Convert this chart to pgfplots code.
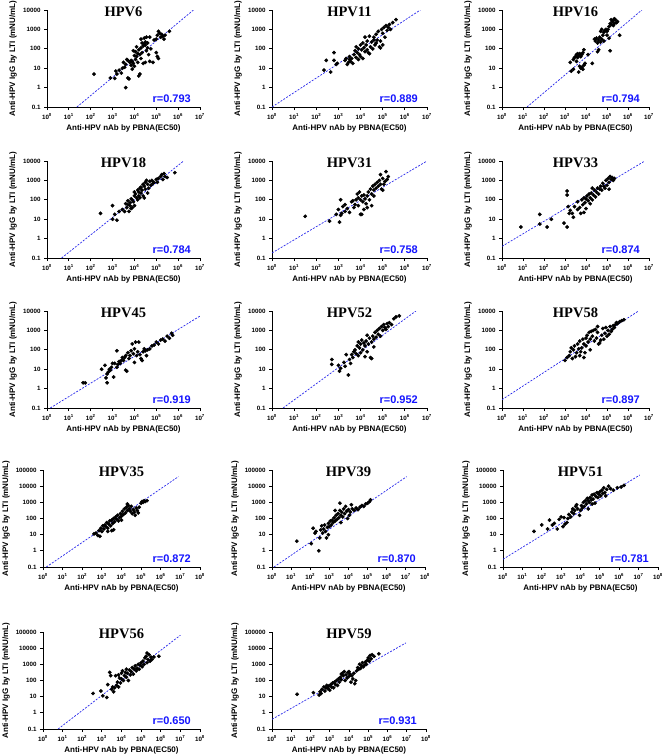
\documentclass[border=0pt]{standalone}
\usepackage{fontspec}
\setmainfont{Liberation Sans}
\newfontfamily\serifbf{Liberation Serif}
\usepackage{pgfplots}
\pgfplotsset{compat=1.18}

% values are log10 of the measured titres: x = nAb (EC50), y = IgG (mNU/mL)
\newcommand\tickfont{\fontsize{6.2}{7}\selectfont\bfseries}
\newcommand\labfont{\fontsize{8}{9}\selectfont\bfseries}
\newcommand\titfont{\fontsize{14.5}{15}\selectfont\serifbf\bfseries}
\newcommand\rfont{\fontsize{11}{12}\selectfont\bfseries}
\definecolor{rblue}{RGB}{20,20,255}
\definecolor{fitblue}{RGB}{40,40,235}

\pgfplotsset{
  hpv/.style={
    scale only axis, height=97pt,
    xmin=0, ymin=-1,
    axis x line*=bottom, axis y line*=left,
    axis line style={line width=0.8pt,-},
    every tick/.style={black,line width=0.8pt},
    tick align=outside, major tick length=3pt,
    tick label style={font=\tickfont},
    xlabel={Anti-HPV nAb by PBNA(EC50)},
    ylabel={Anti-HPV IgG by LTI (mNU/mL)},
    label style={font=\labfont},
    xlabel style={at={(axis description cs:0.5,0)}, anchor=center, yshift=-21pt},
    title style={font=\titfont, at={(axis description cs:0.5,1)}, anchor=north, yshift=-3pt, inner sep=0pt},
  },
  four/.style={hpv, xmax=7, ymax=4,
    xtick={0,...,7},
    xticklabels={10\textsuperscript{0},10\textsuperscript{1},10\textsuperscript{2},10\textsuperscript{3},10\textsuperscript{4},10\textsuperscript{5},10\textsuperscript{6},10\textsuperscript{7}},
    ytick={-1,...,4}, yticklabels={0.1,1,10,100,1000,10000},
    ylabel style={at={([xshift=-34pt]axis description cs:0,0.5)}, anchor=center},
  },
  five/.style={hpv, xmax=8, ymax=5,
    xtick={0,...,8},
    xticklabels={10\textsuperscript{0},10\textsuperscript{1},10\textsuperscript{2},10\textsuperscript{3},10\textsuperscript{4},10\textsuperscript{5},10\textsuperscript{6},10\textsuperscript{7},10\textsuperscript{8}},
    ytick={-1,...,5}, yticklabels={0.1,1,10,100,1000,10000,100000},
    ylabel style={at={([xshift=-37pt]axis description cs:0,0.5)}, anchor=center},
  },
  dots/.style={only marks, mark=*, mark size=1.7pt, black},
  fit/.style={fitblue, line width=0.7pt, dash pattern=on 2pt off 1.4pt},
}

% #1 style, #2 left, #3 top, #4 width, #5 title, #6 r, #7 fit line, #8 points
\newcommand\panel[8]{%
  \begin{axis}[#1, at={(#2pt,-#3pt)}, anchor=north west, width=#4pt, title={#5}]
    \addplot[fit] coordinates {#7};
    \addplot[dots] coordinates {#8};
    \node[anchor=base east, inner sep=0pt, text=rblue, font=\rfont]
      at ([xshift=-9pt,yshift=5pt]rel axis cs:1,0) {#6};
  \end{axis}}

\begin{document}
\begin{tikzpicture}
\useasboundingbox (0,0) rectangle (667pt,-756pt);

\panel{four}{47}{10}{153}{HPV6}{r=0.793}{(1.37,-1) (6.7,4)}{
(2.15,0.7) (2.9,0.5) (3.1,0.48) (3.2,0.7) (3.15,0.85) (3.3,0.9) (3.45,1.0) (3.55,1.05) (3.5,1.3) (3.6,1.2)
(3.65,1.45) (3.7,0.5) (3.75,0.45) (3.6,0.0) (3.8,1.3) (3.85,1.4) (3.9,1.35) (3.95,1.25) (3.85,1.15) (3.9,0.95)
(4.0,1.1) (4.05,1.45) (4.1,1.6) (4.0,1.65) (4.05,1.85) (4.15,1.75) (4.2,1.95) (4.25,1.7) (4.3,2.05) (4.35,1.8)
(4.2,0.6) (4.25,0.7) (4.3,1.5) (4.35,2.3) (4.4,2.15) (4.45,2.25) (4.5,2.35) (4.45,2.55) (4.5,2.2) (4.55,1.9)
(4.6,2.3) (4.55,2.6) (4.6,2.05) (4.65,1.7) (4.5,1.3) (4.4,1.25) (4.7,1.35) (4.75,2.0) (4.85,1.3) (4.9,2.45)
(5.0,2.5) (5.05,2.7) (5.1,2.9) (5.15,2.8) (5.2,2.6) (5.25,2.75) (5.3,2.65) (5.35,2.5) (5.4,2.7) (5.0,1.8)
(5.05,1.6) (5.1,1.5) (5.6,2.9) (4.1,2.1) (4.3,2.5) (3.95,1.9) (4.15,1.3) (4.7,2.6) (3.7,1.4) (3.4,0.75)}

\panel{four}{272}{10}{155}{HPV11}{r=0.889}{(0,-1) (6.7,4)}{
(2.35,0.9) (2.45,1.4) (2.65,0.8) (2.8,1.8) (2.8,1.4) (2.9,1.2) (2.95,1.25) (3.3,1.4) (3.35,1.5) (3.4,1.2)
(3.45,1.3) (3.5,1.45) (3.55,1.35) (3.6,1.5) (3.5,1.6) (3.65,1.25) (3.7,1.7) (3.75,1.9) (3.8,2.1) (3.85,1.8)
(3.9,2.0) (3.95,1.7) (4.0,2.2) (4.05,1.95) (4.1,2.3) (4.15,2.05) (4.2,1.85) (4.25,2.2) (4.3,2.4) (4.35,1.8)
(4.4,1.75) (4.45,2.1) (4.5,2.35) (4.55,2.0) (4.6,2.6) (4.65,2.2) (4.7,2.75) (4.75,2.45) (4.8,2.9) (4.85,2.1)
(4.9,2.4) (4.95,3.0) (5.0,2.8) (5.05,3.1) (5.1,2.6) (5.15,3.2) (5.2,2.95) (5.25,3.1) (5.3,3.25) (5.0,2.2)
(4.9,2.05) (4.7,2.3) (4.6,2.45) (4.3,1.95) (4.0,1.6) (3.9,1.45) (4.2,2.6) (4.4,2.65) (5.45,3.35) (5.6,3.5)
(5.35,3.0) (4.1,1.5) (3.8,1.55)}

\panel{four}{502}{10}{147}{HPV16}{r=0.794}{(1.19,-1) (6.66,4)}{
(3.25,1.3) (3.3,0.85) (3.4,1.45) (3.45,1.55) (3.5,1.6) (3.55,1.7) (3.6,1.75) (3.65,1.65) (3.6,1.55) (3.7,1.75)
(3.75,1.6) (3.8,1.7) (3.85,1.8) (3.9,1.95) (3.7,1.1) (3.75,1.0) (3.8,1.05) (3.85,0.95) (3.9,1.15) (3.65,0.8)
(3.95,1.25) (4.1,1.7) (4.3,1.25) (4.4,2.5) (4.45,2.4) (4.5,2.55) (4.55,2.3) (4.6,2.45) (4.65,2.6) (4.7,2.35)
(4.75,2.5) (4.55,1.85) (4.8,2.7) (4.85,2.85) (4.9,2.95) (4.95,3.0) (5.0,2.7) (5.0,2.9) (5.05,3.0) (4.7,2.9)
(4.75,3.0) (5.1,3.15) (5.15,3.3) (5.2,3.25) (5.25,3.4) (5.3,3.45) (5.35,3.3) (5.4,3.5) (5.45,3.35) (5.3,3.2)
(5.2,3.5) (5.1,2.55) (5.15,1.9) (5.6,2.7) (5.5,3.4) (5.35,3.55) (4.6,1.95) (4.85,2.4) (3.55,1.35) (3.4,0.95)}

\panel{four}{47}{161}{153}{HPV18}{r=0.784}{(0.67,-1) (6.25,4)}{
(2.45,1.3) (3.0,1.7) (3.0,1.0) (3.1,1.25) (3.2,0.95) (3.3,1.4) (3.45,1.5) (3.55,1.4) (3.6,1.8) (3.65,1.6)
(3.7,1.75) (3.7,1.95) (3.75,1.4) (3.8,1.7) (3.8,1.85) (3.85,1.55) (3.9,2.0) (3.95,1.9) (4.0,2.2) (4.0,1.7)
(4.05,2.3) (4.1,2.1) (4.15,2.5) (4.2,2.4) (4.2,2.2) (4.25,2.6) (4.3,2.35) (4.3,2.65) (4.35,2.5) (4.4,2.8)
(4.4,2.2) (4.45,2.7) (4.5,2.55) (4.5,2.9) (4.55,3.0) (4.6,2.8) (4.6,2.35) (4.65,2.6) (4.7,2.95) (4.75,2.75)
(4.8,3.0) (4.85,2.85) (4.9,2.9) (5.0,3.05) (5.05,2.9) (5.1,3.1) (5.2,3.2) (5.25,3.3) (5.3,3.05) (5.35,3.35)
(5.4,3.2) (5.5,3.15) (5.85,3.4) (4.15,2.0) (3.9,1.6) (4.45,2.1) (4.0,2.4) (3.85,2.05) (4.25,2.1)}

\panel{four}{272}{161}{155}{HPV31}{r=0.758}{(0,-0.74) (7,4)}{
(1.5,1.15) (2.6,0.9) (2.9,1.25) (3.0,1.5) (3.05,0.85) (3.1,1.2) (3.1,2.0) (3.15,1.3) (3.2,1.65) (3.3,1.4)
(3.4,1.55) (3.5,1.35) (3.6,1.9) (3.65,1.95) (3.7,1.6) (3.75,1.75) (3.8,2.0) (3.85,2.3) (3.9,2.1) (3.95,2.4)
(4.0,2.0) (4.0,1.25) (4.05,1.25) (4.05,2.2) (4.1,1.9) (4.15,2.25) (4.2,2.05) (4.25,1.8) (4.3,2.2) (4.3,1.6)
(4.35,2.4) (4.4,2.0) (4.45,2.55) (4.5,1.7) (4.5,2.3) (4.55,2.7) (4.6,2.5) (4.65,2.8) (4.7,2.6) (4.75,2.9)
(4.8,2.7) (4.85,3.0) (4.9,2.8) (4.95,2.55) (5.0,3.1) (5.05,2.8) (5.1,2.95) (5.15,3.45) (5.2,3.05) (5.25,3.2)
(4.9,3.3) (5.0,2.5) (3.9,1.7) (4.15,1.5) (4.6,2.2) (3.3,1.75)}

\panel{four}{502}{161}{147}{HPV33}{r=0.874}{(0,-0.4) (6.8,4)}{
(0.9,0.6) (1.8,1.25) (1.8,0.75) (2.15,0.6) (2.35,1.0) (2.95,0.8) (3.1,0.6) (3.1,2.45) (3.1,2.25) (3.15,1.65)
(3.2,1.3) (3.25,1.45) (3.35,1.3) (3.4,1.1) (3.45,1.65) (3.6,1.5) (3.7,1.6) (3.75,1.3) (3.8,2.0) (3.85,1.75)
(3.9,2.1) (3.95,1.85) (4.0,2.05) (4.0,1.55) (4.05,2.2) (4.1,1.95) (4.15,2.3) (4.2,2.1) (4.25,2.35) (4.3,2.0)
(4.35,2.25) (4.4,2.5) (4.45,2.15) (4.5,2.4) (4.55,2.6) (4.6,2.3) (4.65,2.55) (4.7,2.7) (4.75,2.5) (4.8,2.85)
(4.85,2.7) (4.9,2.6) (4.95,3.0) (5.0,2.75) (5.05,3.1) (5.1,2.9) (5.15,3.2) (5.2,3.05) (5.25,3.15) (5.3,3.0)
(5.35,3.1) (5.1,2.55) (3.9,1.35) (4.2,1.8) (3.6,1.9) (4.3,2.6)}

\panel{four}{47}{311}{153}{HPV45}{r=0.919}{(0.15,-1) (7,3.74)}{
(1.65,0.3) (1.75,0.3) (2.5,1.0) (2.65,1.2) (2.7,0.55) (2.75,0.3) (2.75,0.75) (2.8,0.85) (2.85,1.0) (2.9,0.95)
(2.95,1.1) (3.0,1.3) (3.05,0.6) (3.1,1.3) (3.2,1.95) (3.25,1.25) (3.3,1.4) (3.35,1.3) (3.45,1.6) (3.5,1.45)
(3.55,1.6) (3.6,1.7) (3.6,0.95) (3.65,0.9) (3.7,1.85) (3.75,1.55) (3.8,1.7) (3.85,1.95) (3.9,2.3) (3.95,1.8)
(4.0,2.05) (4.05,2.4) (4.1,1.7) (4.15,1.9) (4.2,2.4) (4.25,1.75) (4.3,1.55) (4.35,1.45) (4.4,1.9) (4.45,2.05)
(4.5,1.95) (4.55,1.7) (4.6,2.0) (4.7,2.05) (4.8,2.2) (4.9,2.25) (5.0,2.4) (5.1,2.3) (5.2,2.5) (5.3,2.55)
(5.4,2.45) (5.5,2.7) (5.6,2.6) (5.7,2.85) (5.75,2.75) (3.2,1.1) (3.4,1.45) (4.0,1.35)}

\panel{four}{272}{311}{155}{HPV52}{r=0.952}{(0.5,-1) (6.5,4)}{
(2.7,1.5) (2.7,1.25) (3.0,1.2) (3.05,0.9) (3.1,1.05) (3.25,1.35) (3.3,1.15) (3.35,1.75) (3.45,0.7) (3.5,1.5)
(3.55,1.3) (3.6,1.75) (3.65,1.6) (3.7,1.9) (3.75,2.0) (3.8,1.8) (3.85,2.2) (3.9,1.7) (3.95,2.1) (4.0,2.3)
(4.0,1.85) (4.05,2.5) (4.1,2.0) (4.15,2.35) (4.2,2.2) (4.25,2.45) (4.3,1.9) (4.35,2.3) (4.4,2.6) (4.45,1.6)
(4.5,1.55) (4.5,2.4) (4.55,2.7) (4.6,2.55) (4.65,2.9) (4.7,2.65) (4.75,3.0) (4.8,2.8) (4.85,3.1) (4.9,2.7)
(4.95,3.2) (5.0,3.0) (5.05,3.3) (5.1,3.15) (5.15,3.05) (5.2,3.35) (5.25,3.2) (5.3,3.4) (5.4,3.3) (5.5,3.6)
(5.6,3.7) (5.75,3.75) (4.3,2.75) (4.2,1.65) (3.9,2.4) (4.6,2.15)}

\panel{four}{502}{311}{147}{HPV58}{r=0.897}{(0,-0.57) (6.5,4)}{
(3.0,1.45) (3.1,1.6) (3.2,1.7) (3.25,1.9) (3.3,2.1) (3.35,1.55) (3.4,2.0) (3.45,2.2) (3.5,1.65) (3.55,1.85)
(3.6,2.3) (3.65,2.05) (3.7,2.45) (3.75,1.9) (3.8,2.1) (3.85,2.55) (3.9,2.3) (3.95,1.85) (4.0,2.6) (4.0,2.2)
(4.05,2.75) (4.1,2.4) (4.15,2.9) (4.2,2.55) (4.25,2.95) (4.3,2.7) (4.35,3.0) (4.4,2.45) (4.45,3.05) (4.5,2.6)
(4.55,2.9) (4.6,2.3) (4.65,2.35) (4.7,2.5) (4.75,2.75) (4.8,3.1) (4.85,2.55) (4.9,2.85) (4.95,3.15) (5.0,2.7)
(5.05,3.0) (5.1,2.8) (5.15,3.2) (5.2,2.95) (5.25,3.05) (5.3,3.25) (5.35,3.15) (5.4,3.3) (5.45,3.4) (5.5,3.35)
(5.6,3.45) (5.7,3.5) (5.8,3.55) (3.9,1.6) (4.2,2.0) (4.55,3.2) (3.7,1.7)}

\panel{five}{43}{470}{157}{HPV35}{r=0.872}{(0.17,-1) (6.9,4.59)}{
(2.6,1.05) (2.7,1.1) (2.8,0.95) (2.9,0.9) (2.85,1.25) (2.95,1.4) (3.0,1.2) (3.05,1.55) (3.1,1.35) (3.15,1.6)
(3.2,1.5) (3.25,1.75) (3.3,1.4) (3.35,1.65) (3.4,1.85) (3.45,1.55) (3.5,1.9) (3.55,1.7) (3.6,2.0) (3.6,1.3)
(3.65,1.8) (3.7,2.1) (3.75,1.95) (3.8,2.2) (3.85,1.85) (3.9,2.05) (3.95,2.3) (4.0,2.15) (4.0,1.9) (4.05,2.45)
(4.1,2.25) (4.15,2.6) (4.2,2.35) (4.25,2.7) (4.3,2.5) (4.35,2.8) (4.4,2.6) (4.45,2.45) (4.5,2.75) (4.55,2.3)
(4.6,2.55) (4.65,2.4) (4.7,2.2) (4.75,2.65) (4.8,2.5) (4.85,2.35) (4.9,2.7) (5.0,2.95) (5.05,3.05) (5.1,3.0)
(5.15,3.1) (5.2,3.05) (5.3,3.1) (3.3,1.2) (3.5,1.25) (4.3,2.9)}

\panel{five}{272}{470}{153}{HPV39}{r=0.870}{(0.1,-1) (7.04,4.59)}{
(1.3,0.6) (2.05,0.45) (2.15,1.4) (2.25,1.1) (2.3,1.2) (2.45,0.0) (2.5,0.8) (2.55,1.3) (2.6,1.55) (2.65,1.1)
(2.7,1.35) (2.75,1.6) (2.8,1.2) (2.85,0.8) (2.9,1.45) (2.95,1.7) (3.0,1.5) (3.05,1.85) (3.1,1.6) (3.15,1.9)
(3.2,1.75) (3.25,2.05) (3.3,1.85) (3.35,2.2) (3.4,1.95) (3.45,2.3) (3.5,2.05) (3.55,2.5) (3.55,2.95) (3.6,2.2)
(3.65,2.4) (3.7,2.1) (3.75,2.6) (3.8,2.3) (3.85,2.75) (3.9,2.45) (3.95,2.0) (4.0,2.55) (4.05,2.2) (4.1,2.4)
(4.15,2.85) (4.2,2.6) (4.3,2.5) (4.4,2.65) (4.5,2.55) (4.6,2.7) (4.7,2.8) (4.8,2.75) (4.9,2.9) (5.0,2.95)
(5.1,3.05) (5.15,3.15) (3.6,1.75) (3.3,2.5) (2.95,1.0)}

\panel{five}{503}{470}{155}{HPV51}{r=0.781}{(0,-0.52) (7.06,4.69)}{
(1.6,1.2) (2.0,1.6) (2.3,1.35) (2.4,1.9) (2.55,1.6) (2.65,1.7) (2.8,1.35) (2.9,1.95) (3.0,2.1) (3.1,1.5)
(3.15,2.05) (3.2,1.65) (3.3,1.75) (3.35,2.0) (3.4,2.25) (3.5,2.1) (3.55,2.4) (3.6,2.6) (3.65,2.3) (3.7,2.5)
(3.75,2.75) (3.8,2.85) (3.85,2.6) (3.95,2.2) (4.0,2.5) (4.05,2.8) (4.1,2.65) (4.15,3.0) (4.2,2.75) (4.25,3.1)
(4.3,2.9) (4.35,3.25) (4.4,2.6) (4.45,3.0) (4.5,3.3) (4.55,3.15) (4.6,3.45) (4.65,3.2) (4.7,3.5) (4.75,2.95)
(4.8,3.35) (4.85,3.6) (4.9,3.3) (4.95,3.5) (5.0,3.65) (5.05,3.4) (5.1,3.75) (5.15,3.55) (5.2,3.9) (5.25,3.6)
(5.3,3.4) (5.35,3.8) (5.45,4.0) (5.55,3.85) (5.7,3.75) (5.9,3.9) (6.1,3.95) (6.25,4.05) (4.4,3.1) (4.6,2.9)}

\panel{five}{43}{632}{157}{HPV56}{r=0.650}{(0.77,-1) (7.0,4.8)}{
(2.55,1.2) (2.95,1.35) (3.05,1.05) (3.25,0.95) (3.3,1.75) (3.4,2.5) (3.45,2.3) (3.5,1.45) (3.55,1.6) (3.6,1.3)
(3.65,1.55) (3.7,2.3) (3.75,1.7) (3.8,1.9) (3.85,1.6) (3.9,2.15) (3.95,1.85) (4.0,2.1) (4.05,2.6) (4.1,2.0)
(4.15,2.3) (4.2,2.5) (4.25,2.2) (4.3,2.45) (4.35,2.0) (4.4,2.65) (4.45,2.35) (4.5,2.55) (4.55,2.8) (4.6,2.4)
(4.65,2.7) (4.7,2.9) (4.75,2.6) (4.8,2.75) (4.85,3.0) (4.9,2.7) (4.95,2.95) (5.0,3.1) (5.05,2.85) (5.1,3.2)
(5.15,3.0) (5.2,3.4) (5.25,3.5) (5.3,3.1) (5.3,3.7) (5.35,3.3) (5.4,3.6) (5.45,3.2) (5.5,3.45) (5.55,3.3)
(5.65,3.45) (5.9,3.5) (4.0,2.45) (4.25,2.7) (3.85,2.35)}

\panel{five}{272}{632}{154}{HPV59}{r=0.931}{(0,-0.4) (6.96,4.33)}{
(1.3,1.15) (2.15,1.25) (2.45,1.1) (2.5,1.3) (2.55,1.2) (2.6,1.45) (2.7,1.6) (2.75,1.35) (2.8,1.55) (2.85,1.7)
(2.9,1.5) (2.95,1.65) (3.0,1.4) (3.05,1.75) (3.1,1.6) (3.15,1.85) (3.2,1.55) (3.25,1.9) (3.3,1.75) (3.35,2.0)
(3.4,1.7) (3.45,2.1) (3.5,1.9) (3.55,2.2) (3.6,2.05) (3.65,2.45) (3.7,2.3) (3.75,2.55) (3.8,2.0) (3.85,2.35)
(3.9,2.15) (3.95,2.5) (4.0,2.25) (4.05,2.4) (4.1,1.9) (4.15,2.3) (4.2,2.1) (4.25,2.45) (4.3,1.8) (4.35,2.0)
(4.4,2.6) (4.45,2.8) (4.5,2.7) (4.55,3.0) (4.6,2.75) (4.65,2.9) (4.7,3.1) (4.75,2.85) (4.8,2.95) (4.85,3.15)
(4.9,3.0) (4.95,3.25) (5.0,3.4) (5.05,3.2) (5.1,3.55) (5.15,3.35) (5.2,3.6) (5.3,3.5) (5.55,3.65) (3.6,2.4) (4.0,2.55)}

\end{tikzpicture}
\end{document}
